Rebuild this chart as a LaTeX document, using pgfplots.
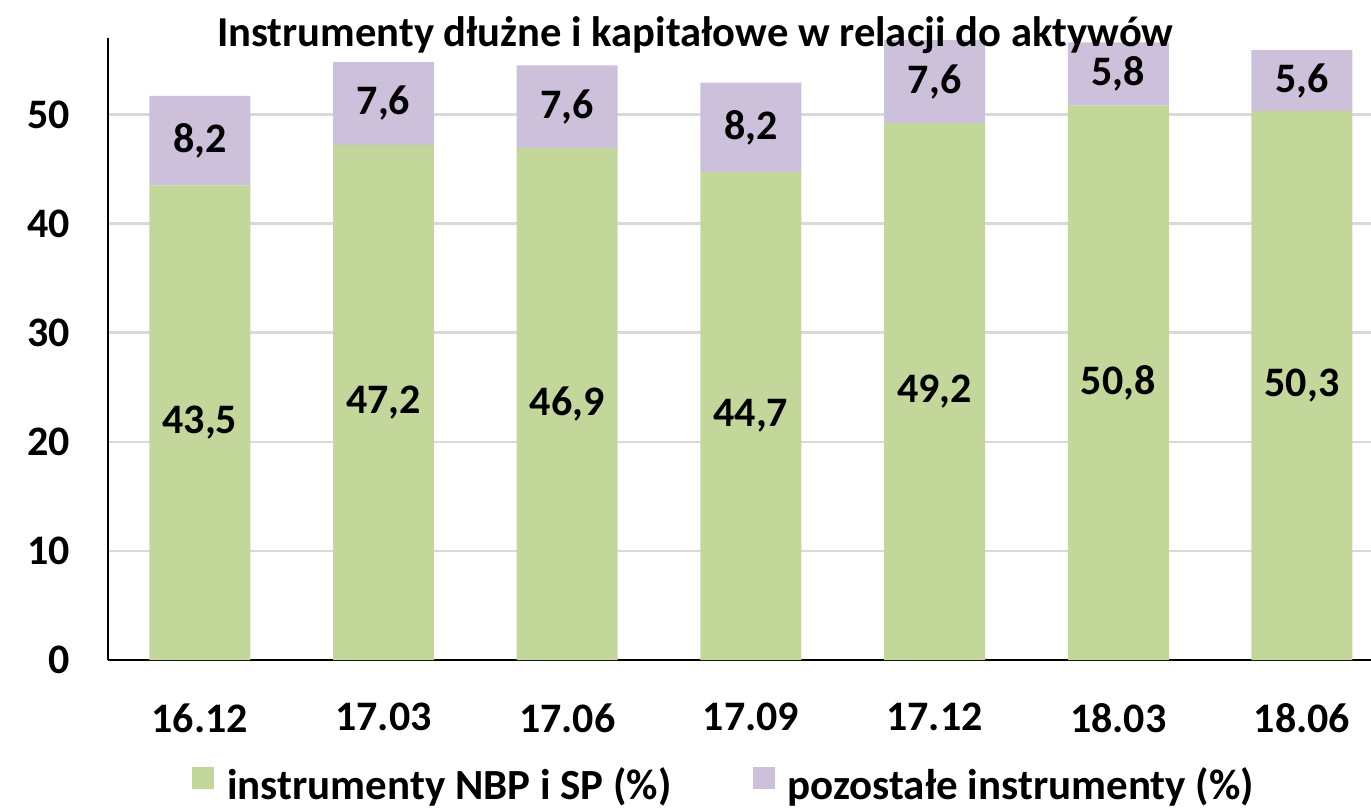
\documentclass[border=0pt]{standalone}
\usepackage{fontspec}
\setmainfont{Carlito}
\usepackage{pgfplots}
\pgfplotsset{compat=1.18}
\usepackage{pgfplotstable}
\definecolor{cgreen}{RGB}{196,215,155}
\definecolor{cpurple}{RGB}{204,192,218}
\definecolor{cgrid}{RGB}{217,217,217}
\newcommand{\cfont}{\bfseries\fontsize{21}{25}\selectfont}
\newcommand{\tfont}{\bfseries\fontsize{21.3}{25}\selectfont}
\newcommand{\lfont}{\bfseries\fontsize{21.5}{25}\selectfont}
\pgfplotstableread{
x g glab p plab
0 43.5 43,5 8.2 8,2
1 47.2 47,2 7.6 7,6
2 46.9 46,9 7.6 7,6
3 44.7 44,7 8.2 8,2
4 49.2 49,2 7.6 7,6
5 50.8 50,8 5.8 5,8
6 50.3 50,3 5.6 5,6
}\data
\begin{document}
\begin{tikzpicture}
\begin{axis}[
  at={(0,0)}, anchor=south west,
  scale only axis, width=631.5pt, height=311pt,
  ybar stacked, bar width=50.5pt,
  xmin=-0.5, xmax=6.376, ymin=0, ymax=57,
  axis x line*=bottom, axis y line*=left,
  axis line style={black, line width=1.2pt, -},
  xtick={0,...,6},
  xticklabels={16.12,17.03,17.06,17.09,17.12,18.03,18.06},
  ytick={0,10,...,50},
  major tick length=0pt,
  ymajorgrids, grid style={cgrid, line width=1.2pt},
  tick label style={font=\cfont, inner sep=0pt},
  yticklabel style={anchor=east, xshift=-19pt},
  xticklabel style={anchor=north, yshift=-21.5pt},
  /pgf/number format/assume math mode=true,
  title={Instrumenty dłużne i kapitałowe w relacji do aktywów},
  title style={at={(0.465,1)}, anchor=base, yshift=-10pt, font=\tfont},
  legend style={at={(0.487,-0.2010)}, anchor=center, draw=none, legend columns=2, font=\lfont,
    nodes={inner sep=0pt},
    /tikz/every odd column/.append style={column sep=6.5pt},
    /tikz/every even column/.append style={column sep=40.5pt}},
  legend image code/.code={\fill[#1] (0pt,-2pt) rectangle (11pt,9pt);},
  nodes near coords, point meta=explicit symbolic,
  every node near coord/.append style={anchor=center, font=\cfont, text=black},
  clip=false,
]
\addplot[fill=cgreen, draw=none] table[x=x, y=g, meta=glab] {\data};
\addplot[fill=cpurple, draw=none] table[x=x, y=p, meta=plab] {\data};
\legend{instrumenty NBP i SP (\%), pozostałe instrumenty (\%)}
\end{axis}
\pgfresetboundingbox
\useasboundingbox (-54pt,-75pt) rectangle (631.5pt,330pt);
\end{tikzpicture}
\end{document}
